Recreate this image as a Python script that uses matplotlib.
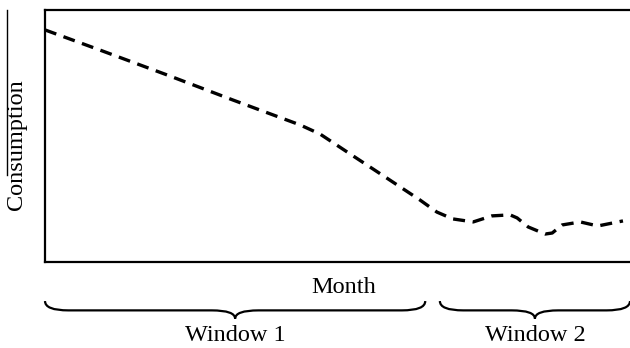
import numpy as np
import matplotlib.pyplot as plt
from matplotlib.path import Path
from matplotlib.patches import PathPatch
from matplotlib.lines import Line2D
import matplotlib.transforms as mtransforms

plt.rcParams['font.family'] = ['Liberation Serif', 'DejaVu Serif']

# Kurve lest av bildet (x: 0-100, y: 0-100)
month = [0, 9.4, 20.9, 32.1, 43.6, 47.0, 52.6, 58.5, 64.1, 67.0, 69.7, 73.2,
         76.4, 79.5, 80.7, 82.6, 85.5, 86.7, 88.4, 91.5, 94.5, 98.8]
consumption = [92.1, 84.1, 74.2, 64.3, 54.4, 50.8, 42.2, 33.2, 24.6, 19.8, 17.1, 15.9,
               18.3, 18.7, 17.5, 13.9, 11.1, 11.5, 14.7, 15.9, 14.3, 16.3]

windows = ['Window 1', 'Window 2']
window_start = [0, 67.5]
window_end = [65, 100]

fig = plt.figure(figsize=(6.3, 3.48), dpi=100)
ax = fig.add_axes([45/630, 86/348, 585/630, 252/348])

ax.plot(month, consumption, color='black', lw=2.4, dashes=(3.6, 2.3),
        solid_capstyle='butt', clip_on=False)
ax.set_xlim(0, 100)
ax.set_ylim(0, 100)
ax.set_xticks([])
ax.set_yticks([])
for s in ['left', 'top', 'bottom']:
    ax.spines[s].set_linewidth(1.6)
ax.spines['right'].set_visible(False)

trans = mtransforms.blended_transform_factory(ax.transData, ax.transAxes)

ax.text(51, -0.1, 'Month', transform=trans, ha='center', va='center', fontsize=17.5)

fig.text(17/630, 1 - 145/348, 'Consumption', rotation=90, ha='center', va='center', fontsize=17.5)
fig.add_artist(Line2D([7/630, 7/630], [1 - 10/348, 1 - 175/348], color='black', lw=1.0))

# Klammer
y_top, y_flat, y_tip = -0.155, -0.192, -0.225
r = 4.0
for name, x0, x1 in zip(windows, window_start, window_end):
    xm = (x0 + x1) / 2
    verts = [(x0, y_top), (x0, y_flat), (x0 + r, y_flat),
             (xm - r, y_flat),
             (xm, y_flat), (xm, y_tip),
             (xm, y_flat), (xm + r, y_flat),
             (x1 - r, y_flat),
             (x1, y_flat), (x1, y_top)]
    codes = [Path.MOVETO, Path.CURVE3, Path.CURVE3,
             Path.LINETO,
             Path.CURVE3, Path.CURVE3,
             Path.CURVE3, Path.CURVE3,
             Path.LINETO,
             Path.CURVE3, Path.CURVE3]
    ax.add_patch(PathPatch(Path(verts, codes), transform=trans, fill=False,
                           lw=1.6, edgecolor='black', clip_on=False))
    ax.text(xm, -0.29, name, transform=trans, ha='center', va='center', fontsize=17.5)

fig.savefig('out.png', dpi=100)
